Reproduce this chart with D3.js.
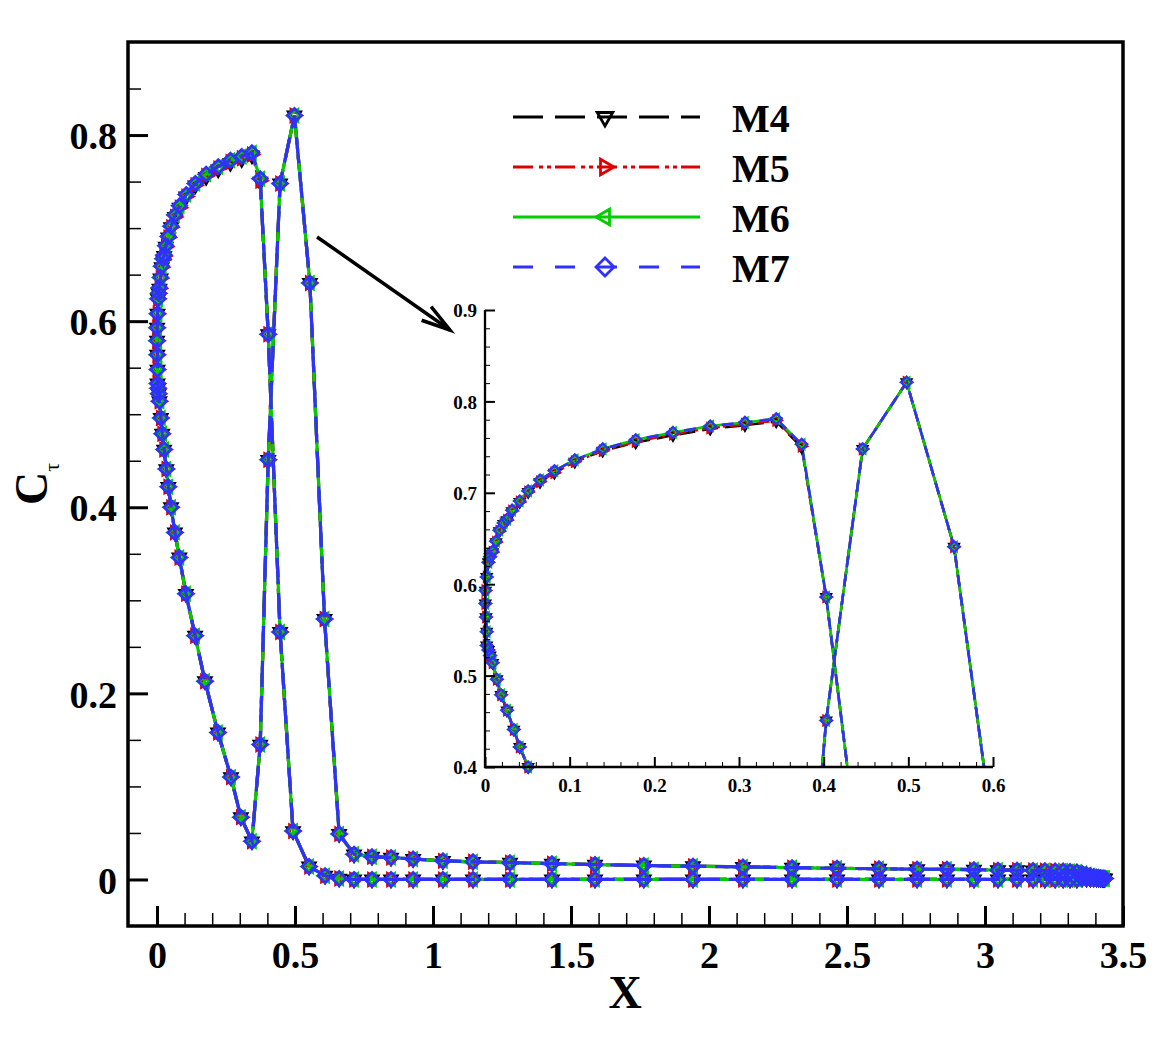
<!DOCTYPE html>
<html><head><meta charset="utf-8">
<script src="https://cdn.jsdelivr.net/npm/d3@7"></script>
<style>body{margin:0;background:#fff}svg{display:block}</style>
</head><body>
<svg id="c" width="1171" height="1041"></svg>
<script>
// ---------------- DATA ----------------
const seriesNames = ["M4", "M5", "M6", "M7"];

const xPts = [
  3.434, 3.430, 3.425, 3.419, 3.412, 3.404, 3.394, 3.382, 3.368, 3.352,
  3.333, 3.308, 3.283, 3.254, 3.217, 3.174, 3.116, 3.047, 2.960, 2.862,
  2.754, 2.616, 2.464, 2.301, 2.123, 1.942, 1.764, 1.587, 1.431, 1.279,
  1.145, 1.036, 0.928, 0.848, 0.779, 0.714, 0.660, 0.609,
  0.551, 0.493, 0.446, 0.403, 0.374, 0.344, 0.307, 0.266, 0.222, 0.178,
  0.139, 0.106, 0.082, 0.065, 0.051, 0.041, 0.032, 0.026, 0.022, 0.017,
  0.013, 0.009, 0.006, 0.004, 0.002, 0.0005, 0.0004, 0.0012, 0.002, 0.002,
  0.004, 0.006, 0.009, 0.014, 0.019, 0.026, 0.034, 0.041, 0.051, 0.065,
  0.081, 0.105, 0.138, 0.174, 0.221, 0.268, 0.304, 0.344,
  0.374, 0.403, 0.446, 0.498, 0.554, 0.607, 0.660, 0.714, 0.779, 0.848,
  0.928, 1.036, 1.145, 1.279, 1.431, 1.587, 1.764, 1.942, 2.123, 2.301,
  2.464, 2.616, 2.754, 2.862, 2.960, 3.047, 3.116, 3.174, 3.217, 3.254,
  3.283, 3.308, 3.333, 3.352, 3.368, 3.382, 3.394, 3.404, 3.412, 3.419,
  3.425, 3.430, 3.434
];

const yM4 = [
  0.001, 0.001, 0.001, 0.001, 0.001, 0.001, 0.001, 0.001, 0.001, 0.001,
  0.000, 0.000, 0.000, 0.000, 0.000, 0.000, 0.000, 0.000, 0.000, 0.000,
  0.000, 0.000, 0.000, 0.000, 0.000, 0.000, 0.000, 0.000, 0.000, 0.000,
  0.000, 0.000, 0.000, 0.000, 0.000, 0.000, 0.001, 0.004,
  0.014, 0.052, 0.266, 0.586, 0.750, 0.778, 0.774, 0.770, 0.763, 0.755,
  0.746, 0.734, 0.722, 0.712, 0.701, 0.690, 0.680, 0.670, 0.666, 0.658,
  0.646, 0.635, 0.630, 0.624, 0.608, 0.593, 0.579, 0.564, 0.548, 0.533,
  0.528, 0.522, 0.514, 0.496, 0.479, 0.462, 0.441, 0.422, 0.400, 0.373,
  0.346, 0.307, 0.262, 0.213, 0.158, 0.110, 0.067, 0.041,
  0.145, 0.451, 0.748, 0.821, 0.641, 0.280, 0.049, 0.027, 0.0245, 0.0235,
  0.022, 0.020, 0.019, 0.018, 0.017, 0.016, 0.015, 0.0143, 0.0135, 0.0127,
  0.012, 0.0115, 0.011, 0.011, 0.0105, 0.010, 0.010, 0.0097, 0.0095, 0.009,
  0.009, 0.0085, 0.008, 0.0065, 0.005, 0.004, 0.003, 0.0025, 0.002, 0.0015,
  0.001, 0.001, 0.001
];

const yM5 = [
  0.001, 0.001, 0.001, 0.001, 0.001, 0.001, 0.001, 0.001, 0.001, 0.001,
  0.000, 0.000, 0.000, 0.000, 0.000, 0.000, 0.000, 0.000, 0.000, 0.000,
  0.000, 0.000, 0.000, 0.000, 0.000, 0.000, 0.000, 0.000, 0.000, 0.000,
  0.000, 0.000, 0.000, 0.000, 0.000, 0.000, 0.001, 0.004,
  0.014, 0.052, 0.266, 0.586, 0.751, 0.779, 0.775, 0.771, 0.764, 0.756,
  0.746, 0.734, 0.722, 0.712, 0.701, 0.690, 0.680, 0.670, 0.666, 0.658,
  0.646, 0.635, 0.630, 0.624, 0.608, 0.593, 0.579, 0.564, 0.548, 0.533,
  0.528, 0.522, 0.514, 0.496, 0.479, 0.462, 0.441, 0.422, 0.400, 0.373,
  0.346, 0.307, 0.262, 0.213, 0.158, 0.110, 0.067, 0.041,
  0.145, 0.451, 0.748, 0.821, 0.641, 0.280, 0.049, 0.027, 0.0245, 0.0235,
  0.022, 0.020, 0.019, 0.018, 0.017, 0.016, 0.015, 0.0143, 0.0135, 0.0127,
  0.012, 0.0115, 0.011, 0.011, 0.0105, 0.010, 0.010, 0.0097, 0.0095, 0.009,
  0.009, 0.0085, 0.008, 0.0065, 0.005, 0.004, 0.003, 0.0025, 0.002, 0.0015,
  0.001, 0.001, 0.001
];

const yM6 = [
  0.001, 0.001, 0.001, 0.001, 0.001, 0.001, 0.001, 0.001, 0.001, 0.001,
  0.000, 0.000, 0.000, 0.000, 0.000, 0.000, 0.000, 0.000, 0.000, 0.000,
  0.000, 0.000, 0.000, 0.000, 0.000, 0.000, 0.000, 0.000, 0.000, 0.000,
  0.000, 0.000, 0.000, 0.000, 0.000, 0.000, 0.001, 0.004,
  0.014, 0.052, 0.266, 0.586, 0.753, 0.781, 0.777, 0.773, 0.766, 0.758,
  0.748, 0.736, 0.724, 0.714, 0.702, 0.691, 0.681, 0.671, 0.667, 0.659,
  0.647, 0.636, 0.630, 0.624, 0.608, 0.593, 0.579, 0.564, 0.548, 0.533,
  0.528, 0.522, 0.514, 0.496, 0.479, 0.462, 0.441, 0.422, 0.400, 0.373,
  0.346, 0.307, 0.262, 0.213, 0.158, 0.110, 0.067, 0.041,
  0.145, 0.451, 0.748, 0.821, 0.641, 0.280, 0.049, 0.027, 0.0245, 0.0235,
  0.022, 0.020, 0.019, 0.018, 0.017, 0.016, 0.015, 0.0143, 0.0135, 0.0127,
  0.012, 0.0115, 0.011, 0.011, 0.0105, 0.010, 0.010, 0.0097, 0.0095, 0.009,
  0.009, 0.0085, 0.008, 0.0065, 0.005, 0.004, 0.003, 0.0025, 0.002, 0.0015,
  0.001, 0.001, 0.001
];

const yM7 = [
  0.001, 0.001, 0.001, 0.001, 0.001, 0.001, 0.001, 0.001, 0.001, 0.001,
  0.000, 0.000, 0.000, 0.000, 0.000, 0.000, 0.000, 0.000, 0.000, 0.000,
  0.000, 0.000, 0.000, 0.000, 0.000, 0.000, 0.000, 0.000, 0.000, 0.000,
  0.000, 0.000, 0.000, 0.000, 0.000, 0.000, 0.001, 0.004,
  0.014, 0.052, 0.266, 0.586, 0.753, 0.781, 0.777, 0.773, 0.766, 0.758,
  0.748, 0.736, 0.724, 0.714, 0.702, 0.691, 0.681, 0.671, 0.667, 0.659,
  0.647, 0.636, 0.630, 0.624, 0.608, 0.593, 0.579, 0.564, 0.548, 0.533,
  0.528, 0.522, 0.514, 0.496, 0.479, 0.462, 0.441, 0.422, 0.400, 0.373,
  0.346, 0.307, 0.262, 0.213, 0.158, 0.110, 0.067, 0.041,
  0.145, 0.451, 0.748, 0.821, 0.641, 0.280, 0.049, 0.027, 0.0245, 0.0235,
  0.022, 0.020, 0.019, 0.018, 0.017, 0.016, 0.015, 0.0143, 0.0135, 0.0127,
  0.012, 0.0115, 0.011, 0.011, 0.0105, 0.010, 0.010, 0.0097, 0.0095, 0.009,
  0.009, 0.0085, 0.008, 0.0065, 0.005, 0.004, 0.003, 0.0025, 0.002, 0.0015,
  0.001, 0.001, 0.001
];

const xTicks = [0, 0.5, 1, 1.5, 2, 2.5, 3, 3.5];
const xTickLabels = ["0", "0.5", "1", "1.5", "2", "2.5", "3", "3.5"];
const yTicks = [0, 0.2, 0.4, 0.6, 0.8];
const yTickLabels = ["0", "0.2", "0.4", "0.6", "0.8"];
const insetXTicks = [0, 0.1, 0.2, 0.3, 0.4, 0.5, 0.6];
const insetXTickLabels = ["0", "0.1", "0.2", "0.3", "0.4", "0.5", "0.6"];
const insetYTicks = [0.4, 0.5, 0.6, 0.7, 0.8, 0.9];
const insetYTickLabels = ["0.4", "0.5", "0.6", "0.7", "0.8", "0.9"];

// ---------------- STYLE ----------------
const seriesY = [yM4, yM5, yM6, yM7];
const colors = ["#000000", "#dd0000", "#00cc00", "#3030ff"];
const dashMain = ["30,12", "20,6,4,4,4,4", null, "26,9"];
const dashInset = ["16,7", "12,4,3,3,3,3", null, "12,7"];
const dashLegend = ["30,12", "20,6,4,4,4,4", null, "20,22"];
const symbols = ["down", "right", "left", "diamond"];
const FONT = "'Liberation Serif','Times New Roman',Times,serif";

function symPath(type, r) {
  const a = r * 0.866, b = r * 0.5;
  switch (type) {
    case "down": return `M${-a},${-b}L${a},${-b}L0,${r}Z`;
    case "right": return `M${-b},${-a}L${-b},${a}L${r},0Z`;
    case "left": return `M${b},${-a}L${b},${a}L${-r},0Z`;
    default: return `M0,${-r}L${r},0L0,${r}L${-r},0Z`;
  }
}

const svg = d3.select("#c");
const defs = svg.append("defs");

// ---------------- MAIN PLOT ----------------
const L = 128, R = 1123, T = 42, B = 926;
const x = d3.scaleLinear().domain([-0.105, 3.5]).range([L, R]);
const y = d3.scaleLinear().domain([-0.05, 0.9]).range([B, T]);

defs.append("clipPath").attr("id", "clipMain")
  .append("rect").attr("x", L).attr("y", T).attr("width", R - L).attr("height", B - T);

const data = seriesY.map(ys => xPts.map((xv, i) => [xv, ys[i]]));

const gMain = svg.append("g").attr("clip-path", "url(#clipMain)");
const lineMain = d3.line().x(d => x(d[0])).y(d => y(d[1]));
data.forEach((pts, k) => {
  gMain.append("path").datum(pts).attr("d", lineMain)
    .attr("fill", "none").attr("stroke", colors[k]).attr("stroke-width", 3.2)
    .attr("stroke-dasharray", dashMain[k]);
  gMain.append("g").selectAll("path").data(pts).join("path")
    .attr("transform", d => `translate(${x(d[0])},${y(d[1])})`)
    .attr("d", symPath(symbols[k], 7))
    .attr("fill", "none").attr("stroke", colors[k]).attr("stroke-width", 2.8);
});

// axes
const minorX = d3.range(0, 3.5001, 0.1).filter(v => xTicks.every(t => Math.abs(t - v) > 1e-6));
const minorY = d3.range(0.05, 0.8501, 0.05).filter(v => yTicks.every(t => Math.abs(t - v) > 1e-6));

const gx = svg.append("g").attr("transform", `translate(0,${B})`)
  .call(d3.axisBottom(x).tickValues(xTicks).tickSize(-20).tickFormat((d, i) => xTickLabels[i]));
gx.select(".domain").remove();
gx.selectAll("line").attr("stroke-width", 3);
gx.selectAll("text").attr("y", 42).attr("dy", 0)
  .attr("font-family", FONT).attr("font-weight", "bold").attr("font-size", 38).attr("fill", "#000");

const gxm = svg.append("g").attr("transform", `translate(0,${B})`)
  .call(d3.axisBottom(x).tickValues(minorX).tickSize(-13).tickFormat(""));
gxm.select(".domain").remove();
gxm.selectAll("line").attr("stroke-width", 1.5);

const gy = svg.append("g").attr("transform", `translate(${L},0)`)
  .call(d3.axisLeft(y).tickValues(yTicks).tickSize(-20).tickPadding(11).tickFormat((d, i) => yTickLabels[i]));
gy.select(".domain").remove();
gy.selectAll("line").attr("stroke-width", 3);
gy.selectAll("text").attr("dy", "0.36em")
  .attr("font-family", FONT).attr("font-weight", "bold").attr("font-size", 38).attr("fill", "#000");

const gym = svg.append("g").attr("transform", `translate(${L},0)`)
  .call(d3.axisLeft(y).tickValues(minorY).tickSize(-13).tickFormat(""));
gym.select(".domain").remove();
gym.selectAll("line").attr("stroke-width", 1.5);

svg.append("rect").attr("x", L).attr("y", T).attr("width", R - L).attr("height", B - T)
  .attr("fill", "none").attr("stroke", "#000").attr("stroke-width", 3.5);

// titles
svg.append("text").attr("x", 625).attr("y", 1008).attr("text-anchor", "middle")
  .attr("font-family", FONT).attr("font-weight", "bold").attr("font-size", 46).text("X");
const yt = svg.append("text").attr("transform", "translate(47,505) rotate(-90)")
  .attr("font-family", FONT).attr("font-weight", "bold").attr("font-size", 46);
yt.append("tspan").text("C");
yt.append("tspan").attr("font-size", 22).attr("font-weight", "normal").attr("dy", 12).text("τ");

// ---------------- ARROW ----------------
const ax0 = x(0.58), ay0 = y(0.6905), ax1 = x(1.0616), ay1 = y(0.5905);
svg.append("line").attr("x1", ax0).attr("y1", ay0).attr("x2", ax1).attr("y2", ay1)
  .attr("stroke", "#000").attr("stroke-width", 3.5);
const ang = Math.atan2(ay1 - ay0, ax1 - ax0);
const wl = 30, wa = 16 * Math.PI / 180;
const w1 = [ax1 - wl * Math.cos(ang - wa), ay1 - wl * Math.sin(ang - wa)];
const w2 = [ax1 - wl * Math.cos(ang + wa), ay1 - wl * Math.sin(ang + wa)];
svg.append("path").attr("d", `M${w1[0]},${w1[1]}L${ax1},${ay1}L${w2[0]},${w2[1]}`)
  .attr("fill", "none").attr("stroke", "#000").attr("stroke-width", 3.5).attr("stroke-linejoin", "miter");

// ---------------- LEGEND ----------------
const legY = [117, 167, 217, 267];
seriesNames.forEach((name, k) => {
  const g = svg.append("g");
  g.append("line").attr("x1", 513).attr("x2", 700).attr("y1", legY[k]).attr("y2", legY[k])
    .attr("stroke", colors[k]).attr("stroke-width", 3.2).attr("stroke-dasharray", dashLegend[k]);
  g.append("path").attr("transform", `translate(605,${legY[k]})`).attr("d", symPath(symbols[k], 9))
    .attr("fill", "none").attr("stroke", colors[k]).attr("stroke-width", 2.8);
  g.append("text").attr("x", 732).attr("y", legY[k] + 15)
    .attr("font-family", FONT).attr("font-weight", "bold").attr("font-size", 40).text(name);
});

// ---------------- INSET ----------------
const iL = 485, iR = 993, iT = 310, iB = 767;
const xi = d3.scaleLinear().domain([0, 0.6]).range([iL, iR]);
const yi = d3.scaleLinear().domain([0.4, 0.9]).range([iB, iT]);
defs.append("clipPath").attr("id", "clipInset")
  .append("rect").attr("x", iL).attr("y", iT).attr("width", iR - iL).attr("height", iB - iT);

const gIn = svg.append("g");
const gInLines = gIn.append("g").attr("clip-path", "url(#clipInset)");
const lineIn = d3.line().x(d => xi(d[0])).y(d => yi(d[1]));
data.forEach((pts, k) => {
  gInLines.append("path").datum(pts).attr("d", lineIn)
    .attr("fill", "none").attr("stroke", colors[k]).attr("stroke-width", 2.6)
    .attr("stroke-dasharray", dashInset[k]);
  gIn.append("g").selectAll("path")
    .data(pts.filter(d => d[0] >= 0 && d[0] <= 0.6 && d[1] >= 0.399 && d[1] <= 0.9))
    .join("path")
    .attr("transform", d => `translate(${xi(d[0])},${yi(d[1])})`)
    .attr("d", symPath(symbols[k], 5.5))
    .attr("fill", "none").attr("stroke", colors[k]).attr("stroke-width", 2.3);
});

const iminorX = d3.range(0, 0.6001, 0.02).filter(v => insetXTicks.every(t => Math.abs(t - v) > 1e-6));
const iminorY = d3.range(0.4, 0.9001, 0.02).filter(v => insetYTicks.every(t => Math.abs(t - v) > 1e-6));

const gix = svg.append("g").attr("transform", `translate(0,${iB})`)
  .call(d3.axisBottom(xi).tickValues(insetXTicks).tickSize(-10).tickFormat((d, i) => insetXTickLabels[i]));
gix.select(".domain").remove();
gix.selectAll("line").attr("stroke-width", 2);
gix.selectAll("text").attr("y", 25).attr("dy", 0)
  .attr("font-family", FONT).attr("font-weight", "bold").attr("font-size", 19).attr("fill", "#000");
const gixm = svg.append("g").attr("transform", `translate(0,${iB})`)
  .call(d3.axisBottom(xi).tickValues(iminorX).tickSize(-5).tickFormat(""));
gixm.select(".domain").remove();
gixm.selectAll("line").attr("stroke-width", 1);

const giy = svg.append("g").attr("transform", `translate(${iL},0)`)
  .call(d3.axisLeft(yi).tickValues(insetYTicks).tickSize(-10).tickPadding(8).tickFormat((d, i) => insetYTickLabels[i]));
giy.select(".domain").remove();
giy.selectAll("line").attr("stroke-width", 2);
giy.selectAll("text").attr("dy", "0.36em")
  .attr("font-family", FONT).attr("font-weight", "bold").attr("font-size", 19).attr("fill", "#000");
const giym = svg.append("g").attr("transform", `translate(${iL},0)`)
  .call(d3.axisLeft(yi).tickValues(iminorY).tickSize(-5).tickFormat(""));
giym.select(".domain").remove();
giym.selectAll("line").attr("stroke-width", 1);

svg.append("path").attr("d", `M${iL},${iT}L${iL},${iB}L${iR},${iB}`)
  .attr("fill", "none").attr("stroke", "#000").attr("stroke-width", 2.3);
</script>
</body></html>
